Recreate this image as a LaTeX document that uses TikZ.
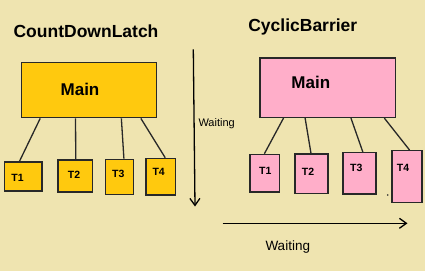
\documentclass[tikz,border=0pt]{standalone}
\usepackage{fontspec}
\setmainfont{Liberation Sans}
\usetikzlibrary{arrows.meta,calc}
\definecolor{bg}{RGB}{239,228,176}
\definecolor{gold}{RGB}{255,201,14}
\definecolor{rose}{RGB}{255,174,201}
\definecolor{ink}{RGB}{40,40,40}
\tikzset{
  box/.style={draw=ink, line width=1.4pt, inner sep=0pt, anchor=north west},
  goldbox/.style={box, fill=gold},
  rosebox/.style={box, fill=rose},
  title/.style={font=\bfseries\fontsize{17.5}{20}\selectfont, text=black, inner sep=0pt},
  maintext/.style={font=\bfseries\fontsize{17}{20}\selectfont, text=black, inner sep=0pt},
  tlabel/.style={font=\bfseries\fontsize{10.5}{12}\selectfont, text=black, inner sep=0pt},
  wait/.style={font=\fontsize{11}{13}\selectfont, text=black, inner sep=0pt},
  link/.style={draw=ink, line width=1.3pt},
  flow/.style={draw=black, line width=1.3pt, -{Straight Barb[length=7pt,width=10pt,line width=1.3pt]}},
}
\begin{document}
\begin{tikzpicture}[x=1pt,y=-1pt]
\fill[bg] (0,0) rectangle (425,271);
\useasboundingbox (0,0) rectangle (425,271);

% ---------- CountDownLatch ----------
\node[title] (tl) at (86,31) {CountDownLatch};
\node[goldbox, minimum width=135pt, minimum height=55pt] (lm) at (20.7,62) {};
\node[maintext] (lmt) at (80,89) {Main};
\node[goldbox, minimum width=37.3pt, minimum height=29pt] (lt1) at (4,161.3) {};
\node[goldbox, minimum width=34.4pt, minimum height=32pt] (lt2) at (57.3,159.3) {};
\node[goldbox, minimum width=27.7pt, minimum height=35.3pt] (lt3) at (105,158.7) {};
\node[goldbox, minimum width=29.4pt, minimum height=36.6pt] (lt4) at (145.3,157.7) {};
\node[tlabel] (lt1t) at (17.5,178) {T1};
\node[tlabel] (lt2t) at (74,175) {T2};
\node[tlabel] (lt3t) at (118.3,174) {T3};
\node[tlabel] (lt4t) at (158.7,172.3) {T4};
\draw[link] ($(lm.south west)!0.143!(lm.south east)$) -- ($(lt1.north west)!0.40!(lt1.north east)$);
\draw[link] ($(lm.south west)!0.402!(lm.south east)$) -- ($(lt2.north west)!0.515!(lt2.north east)$);
\draw[link] ($(lm.south west)!0.738!(lm.south east)$) -- ($(lt3.north west)!0.65!(lt3.north east)$);
\draw[link] ($(lm.south west)!0.881!(lm.south east)$) -- ($(lt4.north west)!0.646!(lt4.north east)$);

% vertical waiting arrow
\coordinate (va) at (193.3,49.3);
\coordinate (vb) at (195,206.5);
\draw[flow] (va) -- (vb);
\node[wait, anchor=west] (vw) at (198.3,123.3) {Waiting};

% ---------- CyclicBarrier ----------
\node[title] (tr) at (302.8,26.7) {CyclicBarrier};
\node[rosebox, minimum width=135.4pt, minimum height=59.4pt] (rm) at (259.3,57.3) {};
\node[maintext] (rmt) at (310.8,82.7) {Main};
\node[rosebox, minimum width=29.4pt, minimum height=37.6pt] (rt1) at (249.3,153.7) {};
\node[rosebox, minimum width=33pt, minimum height=39.4pt] (rt2) at (294.3,153.3) {};
\node[rosebox, minimum width=33pt, minimum height=41.3pt] (rt3) at (342.3,152) {};
\node[rosebox, minimum width=30pt, minimum height=51.7pt] (rt4) at (391.3,150) {};
\node[tlabel] (rt1t) at (265.3,171) {T1};
\node[tlabel] (rt2t) at (308,172) {T2};
\node[tlabel] (rt3t) at (356.3,168.3) {T3};
\node[tlabel] (rt4t) at (403,167.7) {T4};
\fill[ink] (387.7,195) circle (0.9pt);
\draw[link] ($(rm.south west)!0.177!(rm.south east)$) -- ($(rt1.north west)!0.49!(rt1.north east)$);
\draw[link] ($(rm.south west)!0.335!(rm.south east)$) -- ($(rt2.north west)!0.485!(rt2.north east)$);
\draw[link] ($(rm.south west)!0.67!(rm.south east)$) -- ($(rt3.north west)!0.597!(rt3.north east)$);
\draw[link] ($(rm.south west)!0.914!(rm.south east)$) -- ($(rt4.north west)!0.58!(rt4.north east)$);

% horizontal waiting arrow
\coordinate (ha) at (222.7,223.3);
\coordinate (hb) at (407.5,223.3);
\draw[flow] (ha) -- (hb);
\node[wait, font=\fontsize{13.5}{16}\selectfont, anchor=west] (hw) at (265.3,246.7) {Waiting};
\end{tikzpicture}
\end{document}
